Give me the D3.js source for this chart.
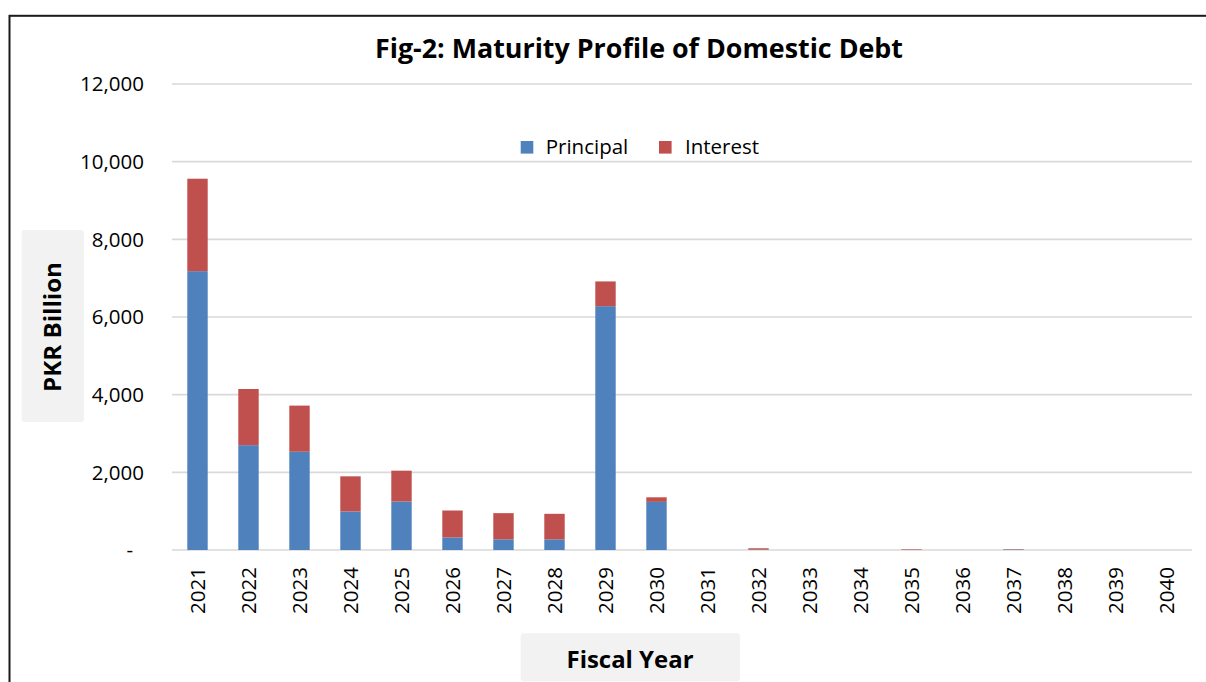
<!DOCTYPE html>
<html>
<head>
<meta charset="utf-8">
<script src="https://cdn.jsdelivr.net/npm/d3@7"></script>
<style>
  html, body { margin: 0; padding: 0; background: #ffffff; }
  svg { display: block; font-family: "Open Sans", "Noto Sans", sans-serif; }
</style>
</head>
<body>
<svg id="chart" width="1206" height="682"></svg>
<script>
// ---- data ----
const years = ["2021","2022","2023","2024","2025","2026","2027","2028","2029","2030",
               "2031","2032","2033","2034","2035","2036","2037","2038","2039","2040"];
const principal = [7180, 2700, 2530, 992, 1248, 325, 274, 274, 6279, 1239,
                   0, 10, 0, 0, 3, 0, 12, 0, 0, 0];
const interest  = [2381, 1446, 1188, 905, 795, 692, 675, 658, 637, 118,
                   0, 35, 0, 0, 15, 0, 10, 0, 0, 0];
const seriesNames = ["Principal", "Interest"];
const yTicks = [0, 2000, 4000, 6000, 8000, 10000, 12000];
const titleText = "Fig-2: Maturity Profile of Domestic Debt";
const yAxisTitle = "PKR Billion";
const xAxisTitle = "Fiscal Year";

// ---- setup ----
const colors = { Principal: "#4f81bd", Interest: "#c0504d" };
const svg = d3.select("#chart");
const plot = { left: 172, right: 1192, top: 84, bottom: 550 };

// outer chart border (left/top visible, rest beyond the frame)
svg.append("rect")
  .attr("x", 9.5).attr("y", 15.8)
  .attr("width", 1300).attr("height", 800)
  .attr("fill", "none").attr("stroke", "#1a1a1a").attr("stroke-width", 2);

const x = d3.scaleBand().domain(years)
  .range([plot.left, plot.right]).paddingInner(0.6).paddingOuter(0.3);
const y = d3.scaleLinear().domain([0, 12000]).range([plot.bottom, plot.top]);

// gridlines
svg.append("g").selectAll("line").data(yTicks).join("line")
  .attr("x1", plot.left).attr("x2", plot.right)
  .attr("y1", d => y(d)).attr("y2", d => y(d))
  .attr("stroke", "#d9d9d9").attr("stroke-width", 1.6);

// y tick labels
svg.append("g").selectAll("text").data(yTicks).join("text")
  .attr("x", d => d === 0 ? 133 : 144)
  .attr("y", d => y(d))
  .attr("dy", "0.36em")
  .attr("text-anchor", "end")
  .attr("font-size", 20.5)
  .attr("fill", "#000")
  .text(d => d === 0 ? "-" : d3.format(",")(d));

// stacked bars
const rows = years.map((yr, i) => ({ year: yr, Principal: principal[i], Interest: interest[i] }));
const stacked = d3.stack().keys(seriesNames)(rows);
svg.append("g").selectAll("g").data(stacked).join("g")
  .attr("fill", d => colors[d.key])
  .selectAll("rect").data(d => d).join("rect")
  .attr("x", d => x(d.data.year))
  .attr("width", x.bandwidth())
  .attr("y", d => y(d[1]))
  .attr("height", d => Math.max(0, y(d[0]) - y(d[1])));

// x tick labels (rotated)
svg.append("g").selectAll("text").data(years).join("text")
  .attr("transform", d => `translate(${x(d) + x.bandwidth() / 2},567) rotate(-90)`)
  .attr("dy", "0.36em")
  .attr("text-anchor", "end")
  .attr("font-size", 20.5)
  .attr("fill", "#000")
  .text(d => d);

// title
svg.append("text")
  .attr("x", 375).attr("y", 58)
  .attr("font-size", 26).attr("font-weight", "bold")
  .attr("textLength", 528).attr("lengthAdjust", "spacingAndGlyphs")
  .attr("fill", "#000")
  .text(titleText);

// legend
const legendItems = [
  { name: "Principal", sx: 520.7, tx: 545.7 },
  { name: "Interest", sx: 659, tx: 685 }
];
const lg = svg.append("g");
lg.selectAll("rect").data(legendItems).join("rect")
  .attr("x", d => d.sx).attr("y", 141)
  .attr("width", 12.6).attr("height", 12.6)
  .attr("fill", d => colors[d.name]);
lg.selectAll("text").data(legendItems).join("text")
  .attr("x", d => d.tx).attr("y", 154)
  .attr("font-size", 20.5).attr("fill", "#000")
  .text(d => d.name);

// y axis title box
svg.append("rect")
  .attr("x", 21.7).attr("y", 230).attr("width", 62.3).attr("height", 192)
  .attr("rx", 3).attr("fill", "#f2f2f2");
svg.append("text")
  .attr("transform", "translate(53,327) rotate(-90)")
  .attr("text-anchor", "middle").attr("dy", "0.36em")
  .attr("font-size", 23).attr("font-weight", "bold")
  .attr("textLength", 130).attr("lengthAdjust", "spacingAndGlyphs")
  .attr("fill", "#000")
  .text(yAxisTitle);

// x axis title box
svg.append("rect")
  .attr("x", 520.7).attr("y", 633.3).attr("width", 219.3).attr("height", 48)
  .attr("rx", 3).attr("fill", "#f2f2f2");
svg.append("text")
  .attr("x", 630).attr("y", 668.3)
  .attr("text-anchor", "middle")
  .attr("font-size", 24).attr("font-weight", "bold")
  .attr("textLength", 127).attr("lengthAdjust", "spacingAndGlyphs")
  .attr("fill", "#000")
  .text(xAxisTitle);
</script>
</body>
</html>
